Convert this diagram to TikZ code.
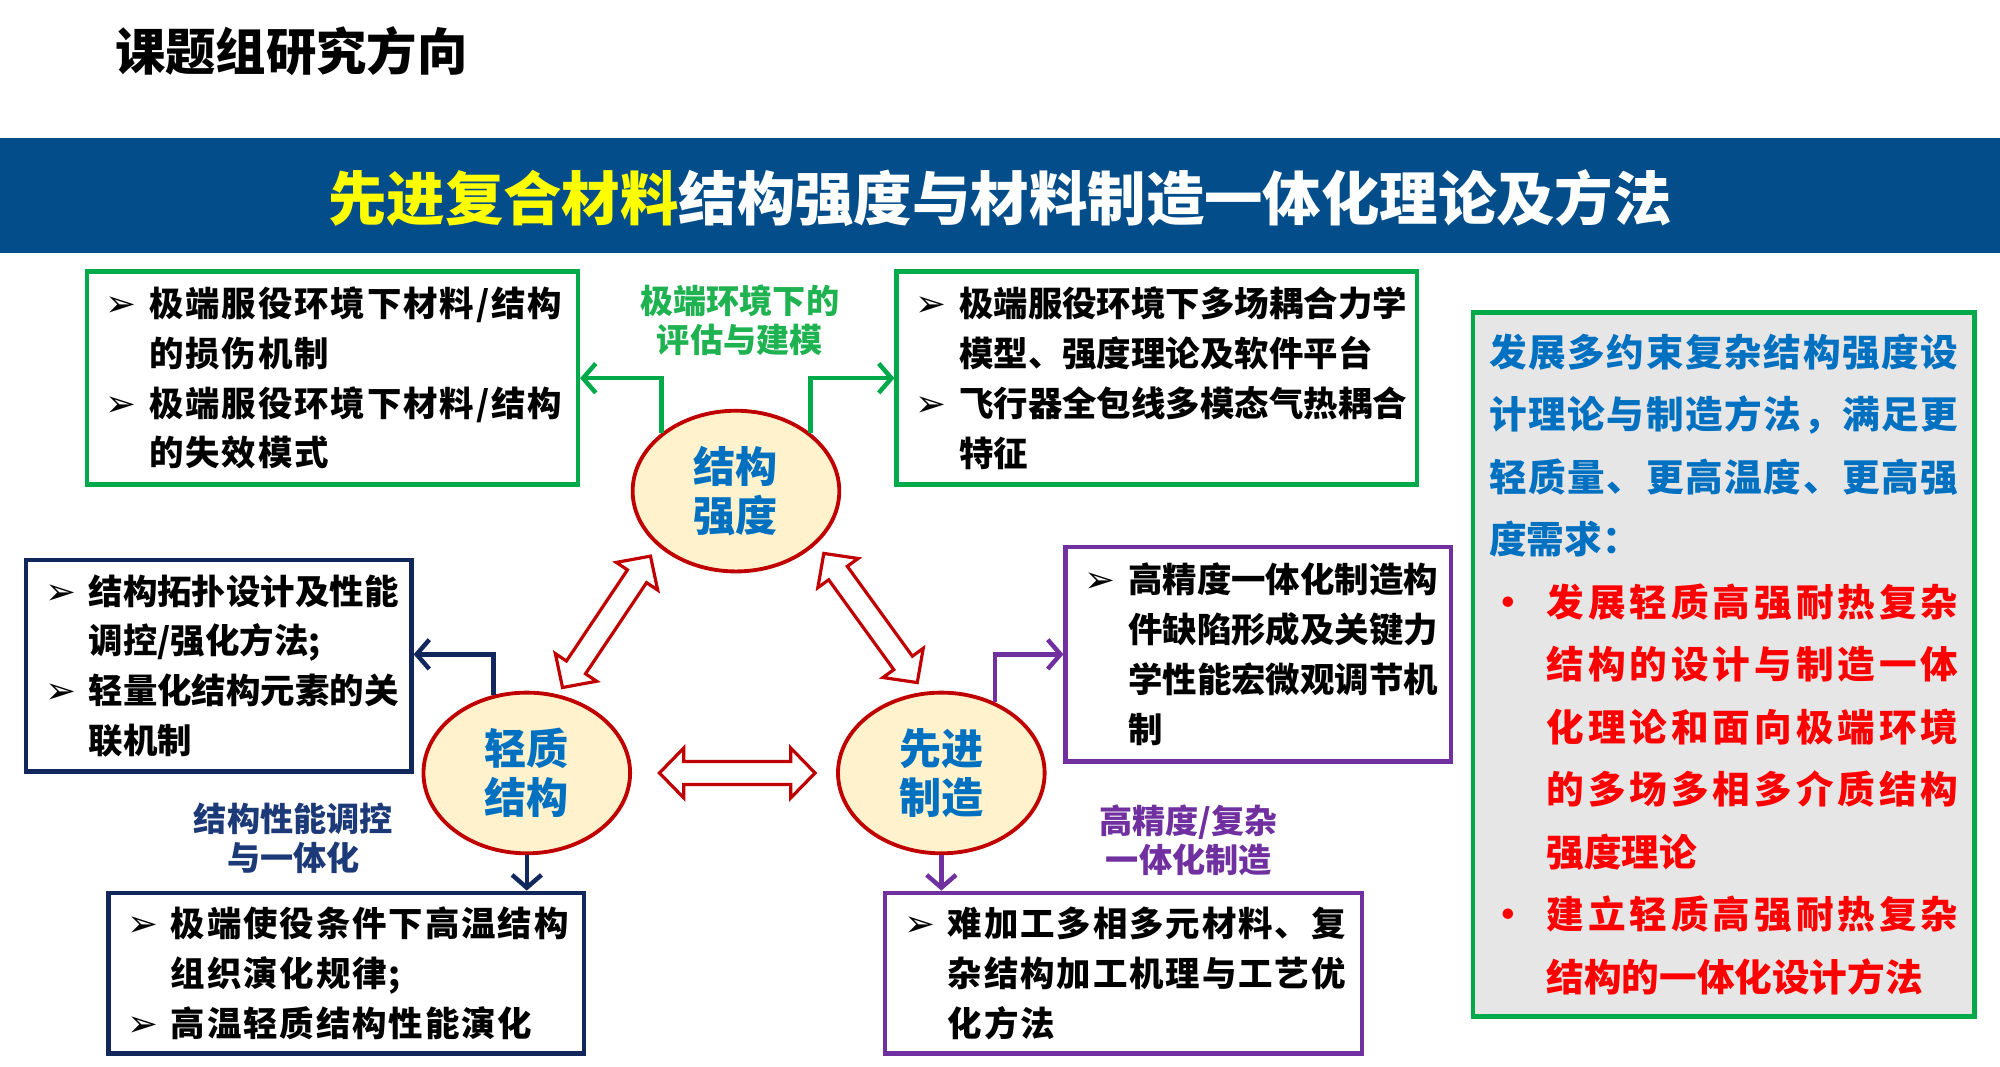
\documentclass[tikz,border=0pt]{standalone}
\usepackage{fontspec}
\setmainfont{Noto Sans CJK SC}
\newfontfamily\dejavu{DejaVu Sans}
\usetikzlibrary{shapes.geometric,arrows.meta}

\definecolor{bannerblue}{RGB}{3,78,138}
\definecolor{boxgreen}{RGB}{0,170,75}
\definecolor{labgreen}{RGB}{30,178,80}
\definecolor{navy}{RGB}{18,40,92}
\definecolor{navylab}{RGB}{28,58,120}
\definecolor{purp}{RGB}{112,48,160}
\definecolor{circfill}{RGB}{255,242,204}
\definecolor{darkred}{RGB}{192,0,0}
\definecolor{circtext}{RGB}{0,112,192}
\definecolor{lightgray}{RGB}{231,230,230}
\definecolor{brightred}{RGB}{255,0,0}
\definecolor{pureyellow}{RGB}{255,255,0}

\makeatletter
\def\spr#1{#1\spr@loop}
\def\spr@loop#1{\ifx#1\relax\else\hfil#1\expandafter\spr@loop\fi}
\makeatother

\newcommand\bul{\makebox[34pt][l]{\raisebox{0pt}{\dejavu\fontsize{29}{29}\selectfont ➢}}}
\newcommand\ind{\hspace*{34pt}}
\newcommand\redbul{\makebox[45pt][l]{\hspace{0pt}•}}
\newcommand\redind{\hspace*{45pt}}

\newcommand\hollowdbl[4]{%
  \pgfmathsetmacro\ha{#4/2}\pgfmathsetmacro\hb{#4/2-19}%
  \begin{scope}[shift={(#1,#2)},rotate=#3]
    \draw[blockarr] (-\ha,0) -- (-\hb,19.5) -- (-\hb,9) -- (\hb,9) -- (\hb,19.5) -- (\ha,0)
      -- (\hb,-19.5) -- (\hb,-9) -- (-\hb,-9) -- (-\hb,-19.5) -- cycle;
  \end{scope}}

\tikzset{
  txtbox/.style={draw, line width=3.5pt, fill=white, align=left, inner xsep=15pt, inner ysep=0pt,
    font=\bfseries\fontsize{27}{39}\selectfont},
  widebox/.style={font=\bfseries\fontsize{27}{39}\selectfont\addfontfeature{LetterSpace=5.5}},
  gbox/.style={txtbox, draw=boxgreen},
  nbox/.style={txtbox, draw=navy},
  pbox/.style={txtbox, draw=purp},
  circ/.style={ellipse, draw=darkred, line width=3pt, fill=circfill, text=circtext,
    align=center, inner sep=0pt, minimum width=162pt, minimum height=126pt,
    font=\bfseries\fontsize{33}{38}\selectfont},
  conn/.style={line width=3.5pt, -{Straight Barb[length=10pt,width=23pt]}},
  lab/.style={align=center, inner sep=0pt, font=\bfseries\fontsize{26}{30.5}\selectfont},
  blockarr/.style={draw=darkred, line width=2.5pt, fill=white, line join=miter},
}

\begin{document}
\begin{tikzpicture}[x=1pt,y=-1pt]
\useasboundingbox[fill=white] (0,0) rectangle (1568,836);

% title
\node[anchor=west, inner sep=0pt, font=\bfseries\fontsize{39.5}{39.5}\selectfont] (title) at (90,40) {课题组研究方向};

% banner
\node[fill=bannerblue, anchor=north west, inner sep=0pt, minimum width=1568pt, minimum height=90pt] (banner) at (0,108) {};
\node[inner sep=0pt, font=\bfseries\fontsize{45.8}{45.8}\selectfont] (bannertext) at (784,155)
  {\textcolor{pureyellow}{先进复合材料}\textcolor{white}{结构强度与材料制造一体化理论及方法}};

% boxes
\node[gbox, widebox, minimum width=385pt, minimum height=167pt, text width=355pt] (tl) at (260.5,296.5)
  {\bul 极端服役环境下材料/结构\\ \ind 的损伤机制\\ \bul 极端服役环境下材料/结构\\ \ind 的失效模式};
\node[gbox, minimum width=408pt, minimum height=167pt, text width=378pt] (tr) at (907,296.5)
  {\bul 极端服役环境下多场耦合力学\\ \ind 模型、强度理论及软件平台\\ \bul 飞行器全包线多模态气热耦合\\ \ind 特征};
\node[nbox, minimum width=301pt, minimum height=166pt, text width=272pt] (lb) at (171.5,522)
  {\bul 结构拓扑设计及性能\\ \ind 调控/强化方法;\\ \bul 轻量化结构元素的关\\ \ind 联机制};
\node[nbox, widebox, minimum width=373pt, minimum height=126pt, text width=343pt] (blb) at (271.5,763)
  {\bul 极端使役条件下高温结构\\ \ind 组织演化规律;\\ \bul 高温轻质结构性能演化};
\node[pbox, minimum width=301pt, minimum height=168pt, text width=272pt] (pb) at (986.5,513)
  {\bul 高精度一体化制造构\\ \ind 件缺陷形成及关键力\\ \ind 学性能宏微观调节机\\ \ind 制};
\node[pbox, widebox, minimum width=374pt, minimum height=126pt, text width=344pt] (bpb) at (881,763)
  {\bul 难加工多相多元材料、复\\ \ind 杂结构加工机理与工艺优\\ \ind 化方法};

% right box
\node[draw=boxgreen, line width=3.5pt, fill=lightgray, minimum width=393pt, minimum height=552pt,
  inner sep=0pt, align=left, font=\bfseries\fontsize{29.5}{49}\selectfont] (rb) at (1351.5,521)
  {\textcolor{circtext}{\makebox[368pt][s]{\spr 发展多约束复杂结构强度设\relax}}\\
   \textcolor{circtext}{\makebox[368pt][s]{\spr 计理论与制造方法，满足更\relax}}\\
   \textcolor{circtext}{\makebox[368pt][s]{\spr 轻质量、更高温度、更高强\relax}}\\
   \textcolor{circtext}{度需求：}\\
   \textcolor{brightred}{\redbul\makebox[323pt][s]{\spr 发展轻质高强耐热复杂\relax}}\\
   \textcolor{brightred}{\redind\makebox[323pt][s]{\spr 结构的设计与制造一体\relax}}\\
   \textcolor{brightred}{\redind\makebox[323pt][s]{\spr 化理论和面向极端环境\relax}}\\
   \textcolor{brightred}{\redind\makebox[323pt][s]{\spr 的多场多相多介质结构\relax}}\\
   \textcolor{brightred}{\redind 强度理论}\\
   \textcolor{brightred}{\redbul\makebox[323pt][s]{\spr 建立轻质高强耐热复杂\relax}}\\
   \textcolor{brightred}{\redind 结构的一体化设计方法}};

% circles
\node[circ] (cs) at (577,385) {结构\\强度};
\node[circ] (lq) at (413,606) {轻质\\结构};
\node[circ] (xz) at (738,606) {先进\\制造};

% labels
\node[lab, text=labgreen] (lg) at (580,251) {极端环境下的\\评估与建模};
\node[lab, text=navylab] (ln) at (230,657.5) {结构性能调控\\与一体化};
\node[lab, text=purp] (lp) at (932,658.5) {高精度/复杂\\一体化制造};

% connectors
\draw[conn, boxgreen] (cs.142) |- (tl.east);
\draw[conn, boxgreen] (cs.38) |- (tr.west);
\draw[conn, navy] (lq.113) |- ([yshift=9pt]lb.east);
\draw[conn, navy] (lq.south) -- (lq.south |- blb.north);
\draw[conn, purp] (xz.53) |- (pb.west);
\draw[conn, purp] (xz.south) -- (xz.south |- bpb.north);

% hollow double arrows
\hollowdbl{475.5}{487.5}{56.2}{124}
\hollowdbl{682.5}{484.5}{-54.1}{125}
\hollowdbl{578}{606}{0}{122}
\end{tikzpicture}
\end{document}
